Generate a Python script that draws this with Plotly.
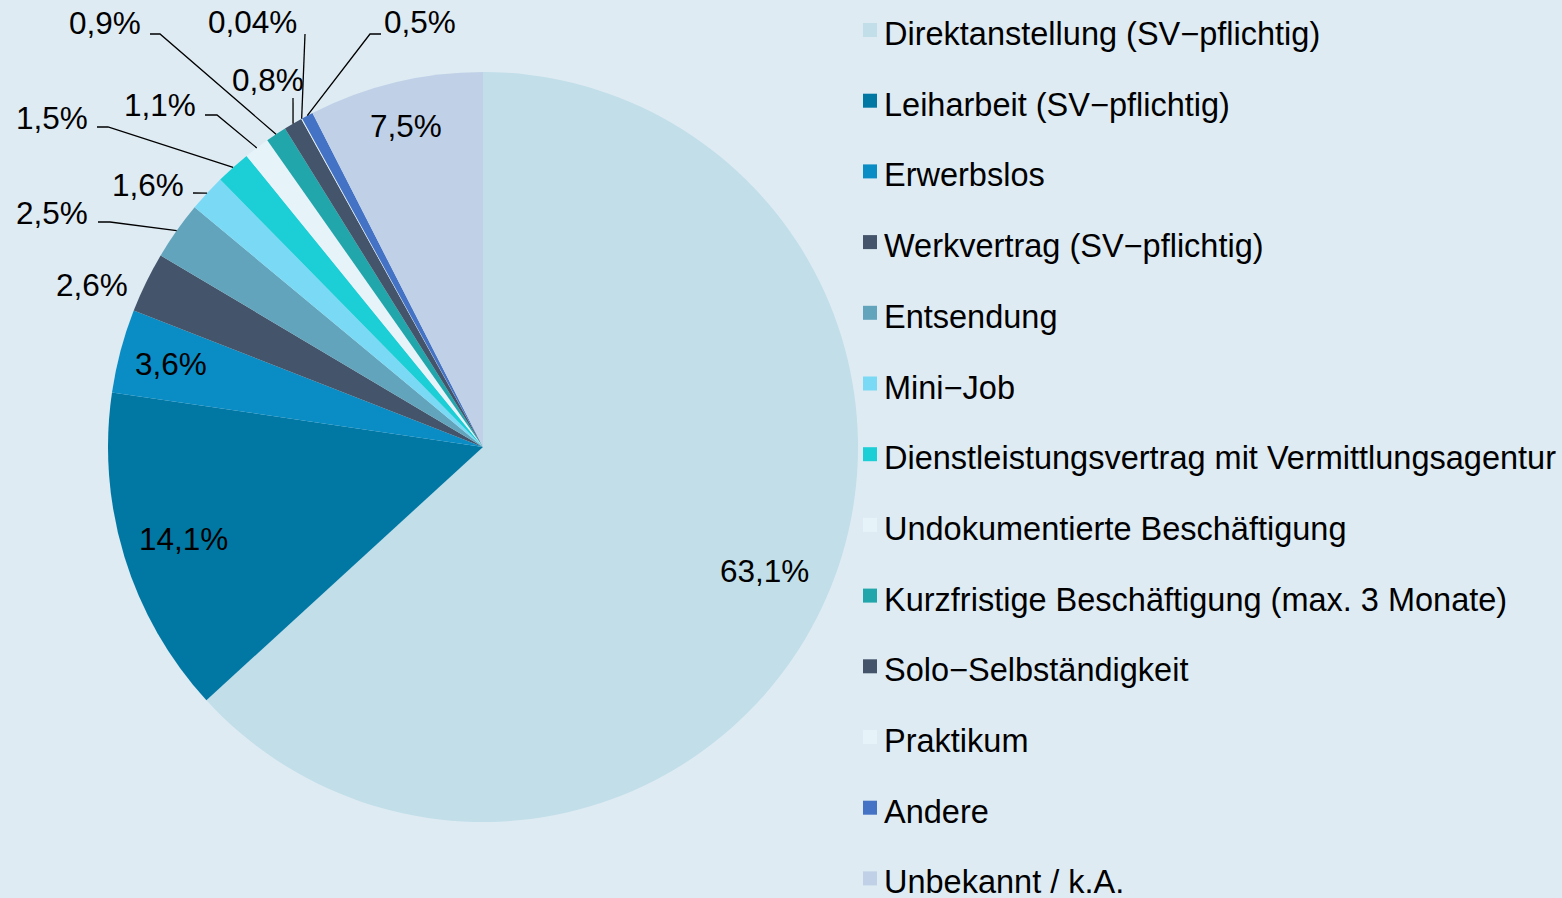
import math
import plotly.graph_objects as go

# ---------------- data ----------------
categories = [
    "Direktanstellung (SV-pflichtig)",
    "Leiharbeit (SV-pflichtig)",
    "Erwerbslos",
    "Werkvertrag (SV-pflichtig)",
    "Entsendung",
    "Mini-Job",
    "Dienstleistungsvertrag mit Vermittlungsagentur",
    "Undokumentierte Beschäftigung",
    "Kurzfristige Beschäftigung (max. 3 Monate)",
    "Solo-Selbständigkeit",
    "Praktikum",
    "Andere",
    "Unbekannt / k.A.",
]
shares = [63.1, 14.1, 3.6, 2.6, 2.5, 1.6, 1.5, 1.1, 0.9, 0.8, 0.04, 0.5, 7.5]
share_text = [str(v).replace(".", ",") + "%" for v in shares]

# ---------------- styles ----------------
colors = [
    "#C1DEE9", "#0078A3", "#0A8CC4", "#44546A", "#62A4BB", "#7AD9F5",
    "#1CCFD6", "#E6F3F8", "#21A7AB", "#44546A", "#E6F3F8", "#4472C4", "#C0D1E7",
]
BG = "#DEEBF3"
FONT = "Liberation Sans"
LABEL_SIZE = 31.5
LEGEND_SIZE = 32.5
W, H = 1562, 898
CX, CY, R = 483, 447, 375

def px(x):
    return x / W

def py(y):
    return 1 - y / H

fig = go.Figure()
fig.add_trace(go.Pie(
    labels=categories,
    values=shares,
    sort=False,
    direction="clockwise",
    rotation=0,
    marker=dict(colors=colors, line=dict(width=0)),
    textinfo="none",
    hoverinfo="label+percent",
    showlegend=False,
    domain=dict(x=[px(CX - R), px(CX + R)], y=[py(CY + R), py(CY - R)]),
))

total = sum(shares)
mids = []
acc = 0.0
for v in shares:
    mids.append((acc + v / 2) / total * 2 * math.pi)
    acc += v

def polar(i, rf):
    a = mids[i]
    return CX + R * rf * math.sin(a), CY - R * rf * math.cos(a)

annotations = []
shapes = []

def label(x, y, text):
    annotations.append(dict(x=px(x), y=py(y), xref="paper", yref="paper",
                            xanchor="center", yanchor="middle",
                            text=text, showarrow=False,
                            font=dict(family=FONT, size=LABEL_SIZE, color="black")))

# inside labels: index -> radial factor
inside = {0: 0.82, 1: 0.835, 2: 0.86, 12: 0.88}
for i, rf in inside.items():
    x, y = polar(i, rf)
    label(x, y, share_text[i])

# outside labels: index -> (label centre px, leader start px, elbow length)
outside = {
    3: ((92, 285), None, 0),
    4: ((52, 213), (98, 222), 12),
    5: ((148, 185), (193, 193), 0),
    6: ((52, 118), (97, 127), 11),
    7: ((160, 105), (205, 115), 12),
    8: ((105, 23), (150, 34), 10),
    9: ((268, 80), (293, 98), 0),
    10: ((252, 22), (305, 34), 0),
    11: ((420, 22), (381, 34), -11),
}
for i, (lab, start, elbow) in outside.items():
    label(lab[0], lab[1], share_text[i])
    if start is None:
        continue
    ex, ey = polar(i, 1.0)
    sx, sy = start
    path = f"M {px(sx)},{py(sy)} L {px(sx + elbow)},{py(sy)} L {px(ex)},{py(ey)}"
    shapes.append(dict(type="path", xref="paper", yref="paper", path=path,
                       line=dict(color="black", width=1.3)))

# manual legend
LEG_X, LEG_Y0, LEG_DY, SQ = 863, 23, 70.7, 14
for k, (name, c) in enumerate(zip(categories, colors)):
    top = LEG_Y0 + k * LEG_DY
    shapes.append(dict(type="rect", xref="paper", yref="paper",
                       x0=px(LEG_X), x1=px(LEG_X + SQ), y0=py(top + SQ), y1=py(top),
                       fillcolor=c, line=dict(width=0)))
    annotations.append(dict(x=px(LEG_X + 19), y=py(top + 11), xref="paper", yref="paper",
                            xanchor="left", yanchor="middle", text=name.replace("-", "\u2212"),
                            showarrow=False,
                            font=dict(family=FONT, size=LEGEND_SIZE, color="black")))

fig.update_layout(
    width=W, height=H,
    margin=dict(l=0, r=0, t=0, b=0),
    paper_bgcolor=BG, plot_bgcolor=BG,
    annotations=annotations, shapes=shapes,
    showlegend=False,
)
fig.write_html("out.html", config={"displayModeBar": False},
               post_script="document.body.style.margin='0';document.body.style.overflow='hidden';")
